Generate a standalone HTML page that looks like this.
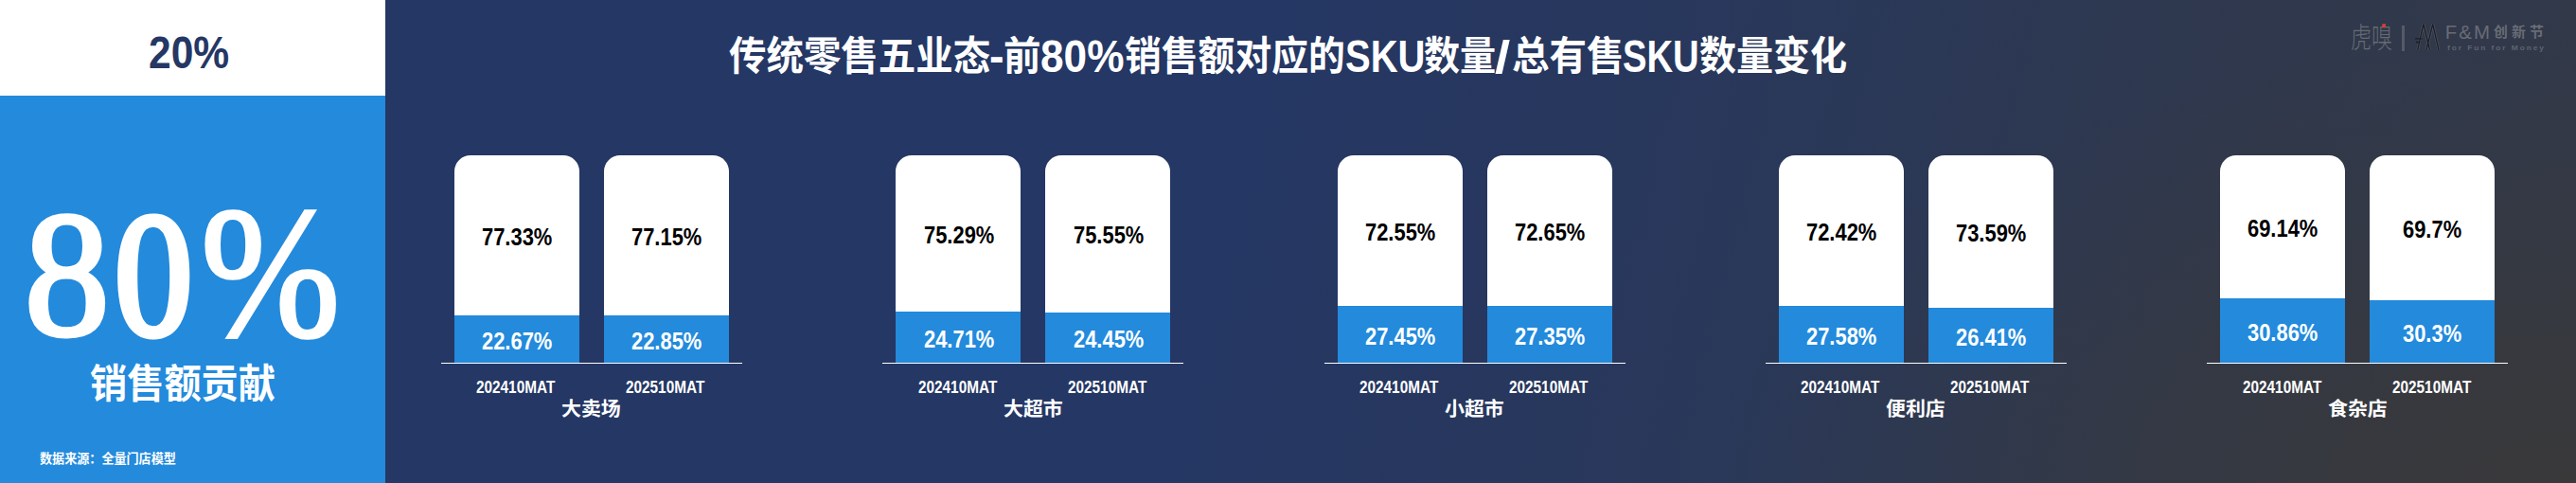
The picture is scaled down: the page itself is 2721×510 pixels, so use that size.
<!DOCTYPE html>
<html lang="zh-CN"><head><meta charset="utf-8"><title>SKU</title>
<style>
html,body{margin:0;padding:0}
body{width:2721px;height:510px;overflow:hidden;position:relative;background:#253764;font-family:'Liberation Sans','Noto Sans CJK SC',sans-serif}
.bg{position:absolute;left:0;top:0;width:2721px;height:510px;background:radial-gradient(ellipse 900px 480px at 100% 100%,rgba(57,57,58,1) 0%,rgba(57,57,58,.75) 25%,rgba(57,57,58,.45) 50%,rgba(57,57,58,.18) 75%,rgba(57,57,58,0) 100%),linear-gradient(104deg,#253764 0%,#253764 47.5%,#27375e 58.5%,#2a3858 69.2%,#2f384d 83.4%,#323948 98.4%,#323948 100%)}
.lp{position:absolute;left:0;top:0;width:407px;height:510px;background:#238adc}
.lpw{position:absolute;left:0;top:0;width:407px;height:101px;background:#fff}
.t{position:absolute;white-space:nowrap;line-height:1;transform-origin:0 0}
.w{position:absolute;left:0;top:0}
.w span{display:block}
.bar{position:absolute;width:132px;background:#fff;border-radius:17px 17px 0 0;overflow:hidden}
.blue{position:absolute;left:0;bottom:0;width:100%;background:#238adc}
.ax{position:absolute;height:1.5px;background:#fff}
</style></head><body>
<div class="bg"></div>
<div class="lp"></div><div class="lpw"></div>

<div class="w"><span class="t" style="left:25.7px;top:196.0px;font-size:188.88px;font-weight:400;color:#fff;transform:scaleX(0.9482);font-family:'Liberation Serif',serif;-webkit-text-stroke:5px #fff;">8</span><span class="t" style="left:121.3px;top:197.0px;font-size:186.13px;font-weight:400;color:#fff;transform:scaleX(0.8860);font-family:'Liberation Serif',serif;-webkit-text-stroke:7px #fff;">0</span><span class="t" style="left:212.1px;top:190.0px;font-size:196.83px;font-weight:400;color:#fff;transform:scaleX(0.8987);font-family:'Liberation Serif',serif;-webkit-text-stroke:3.5px #fff;">%</span></div>
<div class="t" style="left:156.6px;top:31.8px;font-size:47.72px;font-weight:700;color:#253764;transform:scaleX(0.8913);">20%</div>
<div class="t" style="left:95.3px;top:384.8px;font-size:42.05px;font-weight:700;color:#fff;transform:scaleX(0.9322);">销售额贡献</div>
<div class="t" style="left:42.0px;top:477.6px;font-size:13.41px;font-weight:700;color:#fff;transform:scaleX(0.9755);">数据来源：全量门店模型</div>
<div class="w"><span class="t" style="left:769.8px;top:38.6px;font-size:42.0px;font-weight:700;color:#fff;transform:scaleX(0.9392);">传统零售五业态</span><span class="t" style="left:1045.4px;top:34.7px;font-size:48.34px;font-weight:700;color:#fff;transform:scaleX(0.9667);">-</span><span class="t" style="left:1060.1px;top:38.6px;font-size:42.0px;font-weight:700;color:#fff;transform:scaleX(0.9395);">前</span><span class="t" style="left:1099.1px;top:34.7px;font-size:48.34px;font-weight:700;color:#fff;transform:scaleX(0.9140);">80%</span><span class="t" style="left:1187.9px;top:38.6px;font-size:42.0px;font-weight:700;color:#fff;transform:scaleX(0.9237);">销售额对应的</span><span class="t" style="left:1421.0px;top:34.7px;font-size:48.34px;font-weight:700;color:#fff;transform:scaleX(0.8278);">SKU</span><span class="t" style="left:1503.6px;top:38.6px;font-size:42.0px;font-weight:700;color:#fff;transform:scaleX(0.9074);">数量</span><span class="t" style="left:1578.8px;top:35.7px;font-size:48.34px;font-weight:700;color:#fff;transform:scaleX(1.2083);">/</span><span class="t" style="left:1596.5px;top:38.6px;font-size:42.0px;font-weight:700;color:#fff;transform:scaleX(0.9393);">总有售</span><span class="t" style="left:1714.2px;top:34.7px;font-size:48.34px;font-weight:700;color:#fff;transform:scaleX(0.7907);">SKU</span><span class="t" style="left:1794.5px;top:38.6px;font-size:42.0px;font-weight:700;color:#fff;transform:scaleX(0.9295);">数量变化</span></div>
<div class="ax" style="left:466.0px;top:382.7px;width:318px"></div>
<div class="bar" style="left:480.0px;top:164px;height:219px"><div class="blue" style="height:49.6px"></div></div>
<div class="t" style="left:509.2px;top:237.4px;font-size:26.03px;font-weight:700;color:#000;transform:scaleX(0.8419);">77.33%</div>
<div class="t" style="left:509.2px;top:346.9px;font-size:26.03px;font-weight:700;color:#fff;transform:scaleX(0.8419);">22.67%</div>
<div class="t" style="left:503.4px;top:399.4px;font-size:19.28px;font-weight:700;color:#fff;transform:scaleX(0.7961);">202410MAT</div>
<div class="bar" style="left:638.0px;top:164px;height:219px"><div class="blue" style="height:50.0px"></div></div>
<div class="t" style="left:667.2px;top:237.2px;font-size:26.03px;font-weight:700;color:#000;transform:scaleX(0.8419);">77.15%</div>
<div class="t" style="left:667.2px;top:346.7px;font-size:26.03px;font-weight:700;color:#fff;transform:scaleX(0.8419);">22.85%</div>
<div class="t" style="left:661.4px;top:399.4px;font-size:19.28px;font-weight:700;color:#fff;transform:scaleX(0.7961);">202510MAT</div>
<div class="t" style="left:593.3px;top:422.2px;font-size:20.82px;font-weight:700;color:#fff;transform:scaleX(1.0049);">大卖场</div>
<div class="ax" style="left:932.3px;top:382.7px;width:318px"></div>
<div class="bar" style="left:946.3px;top:164px;height:219px"><div class="blue" style="height:54.1px"></div></div>
<div class="t" style="left:975.5px;top:235.1px;font-size:26.03px;font-weight:700;color:#000;transform:scaleX(0.8419);">75.29%</div>
<div class="t" style="left:975.5px;top:344.6px;font-size:26.03px;font-weight:700;color:#fff;transform:scaleX(0.8419);">24.71%</div>
<div class="t" style="left:969.7px;top:399.4px;font-size:19.28px;font-weight:700;color:#fff;transform:scaleX(0.7961);">202410MAT</div>
<div class="bar" style="left:1104.3px;top:164px;height:219px"><div class="blue" style="height:53.5px"></div></div>
<div class="t" style="left:1133.5px;top:235.4px;font-size:26.03px;font-weight:700;color:#000;transform:scaleX(0.8419);">75.55%</div>
<div class="t" style="left:1133.5px;top:344.9px;font-size:26.03px;font-weight:700;color:#fff;transform:scaleX(0.8419);">24.45%</div>
<div class="t" style="left:1127.7px;top:399.4px;font-size:19.28px;font-weight:700;color:#fff;transform:scaleX(0.7961);">202510MAT</div>
<div class="t" style="left:1059.6px;top:422.2px;font-size:20.82px;font-weight:700;color:#fff;transform:scaleX(1.0049);">大超市</div>
<div class="ax" style="left:1398.6px;top:382.7px;width:318px"></div>
<div class="bar" style="left:1412.6px;top:164px;height:219px"><div class="blue" style="height:60.1px"></div></div>
<div class="t" style="left:1441.8px;top:232.1px;font-size:26.03px;font-weight:700;color:#000;transform:scaleX(0.8419);">72.55%</div>
<div class="t" style="left:1441.8px;top:341.6px;font-size:26.03px;font-weight:700;color:#fff;transform:scaleX(0.8419);">27.45%</div>
<div class="t" style="left:1436.0px;top:399.4px;font-size:19.28px;font-weight:700;color:#fff;transform:scaleX(0.7961);">202410MAT</div>
<div class="bar" style="left:1570.6px;top:164px;height:219px"><div class="blue" style="height:59.9px"></div></div>
<div class="t" style="left:1599.8px;top:232.2px;font-size:26.03px;font-weight:700;color:#000;transform:scaleX(0.8419);">72.65%</div>
<div class="t" style="left:1599.8px;top:341.8px;font-size:26.03px;font-weight:700;color:#fff;transform:scaleX(0.8419);">27.35%</div>
<div class="t" style="left:1594.0px;top:399.4px;font-size:19.28px;font-weight:700;color:#fff;transform:scaleX(0.7961);">202510MAT</div>
<div class="t" style="left:1525.9px;top:422.2px;font-size:20.82px;font-weight:700;color:#fff;transform:scaleX(1.0049);">小超市</div>
<div class="ax" style="left:1864.9px;top:382.7px;width:318px"></div>
<div class="bar" style="left:1878.9px;top:164px;height:219px"><div class="blue" style="height:60.4px"></div></div>
<div class="t" style="left:1908.1px;top:232.0px;font-size:26.03px;font-weight:700;color:#000;transform:scaleX(0.8419);">72.42%</div>
<div class="t" style="left:1908.1px;top:341.5px;font-size:26.03px;font-weight:700;color:#fff;transform:scaleX(0.8419);">27.58%</div>
<div class="t" style="left:1902.3px;top:399.4px;font-size:19.28px;font-weight:700;color:#fff;transform:scaleX(0.7961);">202410MAT</div>
<div class="bar" style="left:2036.9px;top:164px;height:219px"><div class="blue" style="height:57.8px"></div></div>
<div class="t" style="left:2066.1px;top:233.3px;font-size:26.03px;font-weight:700;color:#000;transform:scaleX(0.8419);">73.59%</div>
<div class="t" style="left:2066.1px;top:342.8px;font-size:26.03px;font-weight:700;color:#fff;transform:scaleX(0.8419);">26.41%</div>
<div class="t" style="left:2060.3px;top:399.4px;font-size:19.28px;font-weight:700;color:#fff;transform:scaleX(0.7961);">202510MAT</div>
<div class="t" style="left:1992.2px;top:422.2px;font-size:20.82px;font-weight:700;color:#fff;transform:scaleX(1.0049);">便利店</div>
<div class="ax" style="left:2331.2px;top:382.7px;width:318px"></div>
<div class="bar" style="left:2345.2px;top:164px;height:219px"><div class="blue" style="height:67.6px"></div></div>
<div class="t" style="left:2374.4px;top:228.4px;font-size:26.03px;font-weight:700;color:#000;transform:scaleX(0.8419);">69.14%</div>
<div class="t" style="left:2374.4px;top:337.9px;font-size:26.03px;font-weight:700;color:#fff;transform:scaleX(0.8419);">30.86%</div>
<div class="t" style="left:2368.6px;top:399.4px;font-size:19.28px;font-weight:700;color:#fff;transform:scaleX(0.7961);">202410MAT</div>
<div class="bar" style="left:2503.2px;top:164px;height:219px"><div class="blue" style="height:66.4px"></div></div>
<div class="t" style="left:2538.3px;top:229.0px;font-size:26.03px;font-weight:700;color:#000;transform:scaleX(0.8419);">69.7%</div>
<div class="t" style="left:2538.3px;top:338.5px;font-size:26.03px;font-weight:700;color:#fff;transform:scaleX(0.8419);">30.3%</div>
<div class="t" style="left:2526.6px;top:399.4px;font-size:19.28px;font-weight:700;color:#fff;transform:scaleX(0.7961);">202510MAT</div>
<div class="t" style="left:2458.5px;top:422.2px;font-size:20.82px;font-weight:700;color:#fff;transform:scaleX(1.0049);">食杂店</div>
<div class="t" style="left:2483.3px;top:24.8px;font-size:29.64px;font-weight:300;color:#676b73;transform:scaleX(0.7436);">虎嗅</div>
<div style="position:absolute;left:2516px;top:25.2px;width:4px;height:4px;border-radius:2px;background:#e8382c"></div>
<div style="position:absolute;left:2537.2px;top:27px;width:2.4px;height:26.8px;background:#555a66"></div>
<svg style="position:absolute;left:2549px;top:23px" width="30" height="33" viewBox="0 0 30 33"><g fill="none" stroke-linejoin="miter"><path d="M4.7 29.7 L10.9 2.4 L17.5 29.7 M14 29.7 L20.7 2.4 L27 29.8" stroke="#6a6e78" stroke-width="2.8" opacity=".5"/><path d="M4.7 29.7 L10.9 2.4 L17.5 29.7 M14 29.7 L20.7 2.4 L27 29.8 M2 17.9 H9.5 M3 21.5 H7.5" stroke="#1b1d24" stroke-width="1.3"/></g></svg>
<div class="t" style="left:2582.8px;top:23.9px;font-size:20.46px;font-weight:400;color:#686c76;transform:scaleX(1.0000);letter-spacing:2px;">F&amp;M</div>
<div class="t" style="left:2634.0px;top:27.4px;font-size:14.52px;font-weight:700;color:#686c76;transform:scaleX(1.0235);letter-spacing:4px;">创新节</div>
<div class="t" style="left:2584.8px;top:47.6px;font-size:6.41px;font-weight:700;color:#5f6470;transform:scaleX(1.3000);letter-spacing:1.5px;">for Fun for Money</div>
</body></html>
